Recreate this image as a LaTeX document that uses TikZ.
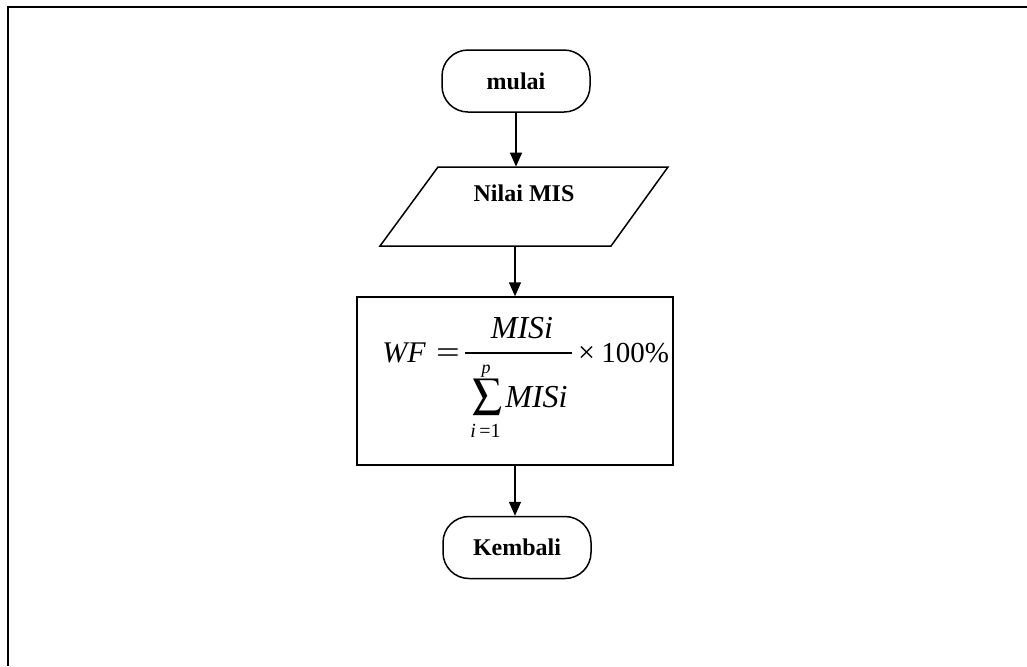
\documentclass[tikz,border=0pt]{standalone}
\usepackage{mathptmx}
\usepackage[no-math]{fontspec}
\setmainfont{Liberation Serif}
\usetikzlibrary{arrows.meta}
\tikzset{
  labelfont/.style={font=\bfseries\fontsize{12}{14}\selectfont},
  frameline/.style={line width=1pt},
  terminal/.style={draw, line width=0.75pt, rounded corners=13pt, minimum width=74pt, minimum height=31pt, labelfont},
  iobox/.style={draw=none, minimum width=20pt, minimum height=39.5pt, inner sep=0pt},
  process/.style={draw, line width=0.75pt, minimum width=158pt, minimum height=84pt, inner sep=0pt},
  flow/.style={line width=0.75pt, -{Triangle[length=7pt,width=6pt]}},
  % pieces of the weighting formula
  fx/.style={inner sep=0pt, font=\fontsize{15}{18}\selectfont},
  fxvar/.style={inner sep=0pt, font=\itshape\fontsize{16}{18}\selectfont},
  fxsmall/.style={inner sep=0pt, font=\fontsize{10}{12}\selectfont},
}
\begin{document}
\begin{tikzpicture}[x=0.5pt, y=-0.5pt]
  \useasboundingbox (0,0) rectangle (1027,666);
  % outer frame (top and left edges)
  \draw[frameline] (8,666) -- (8,7) -- (1027,7);

  % start
  \node[terminal] (start) at (516,81) {mulai};

  % input: parallelogram with its label
  \node[iobox, label={[labelfont, yshift=6.8pt]center:Nilai MIS}] (input) at (524,206.5) {};
  \draw[line width=0.75pt] (438,167) -- (668,167) -- (611,246) -- (380,246) -- cycle;

  % process box holding WF = MISi / sum_{i=1}^{p} MISi x 100%
  \node[process] (calc) at (515,381) {};
  \node[fx, font=\itshape\fontsize{15}{18}\selectfont, anchor=base west] (wf) at (382,362) {WF};
  \node[fx, anchor=base] (eq) at (448,362) {\scalebox{1.4}[1]{=}};
  \draw[line width=0.8pt] (465,353) coordinate (barL) -- (572,353) coordinate (barR);
  \node[fxvar, anchor=base] (num) at (522,338) {MISi};
  \node[inner sep=0pt, anchor=south] (sum) at (487.5,415) {\resizebox*{15pt}{18pt}{$\displaystyle\sum$}};
  \node[fxsmall, font=\itshape\fontsize{9}{11}\selectfont, anchor=base] (upper) at (486,373) {p};
  \node[fxsmall, anchor=base] (lower) at (485.5,437) {\textit{i}\,=1};
  \node[fxvar, anchor=base west] (den) at (505,407) {MISi};
  \node[fx, anchor=base] (times) at (586.5,362) {×};
  \node[fx, font=\fontsize{14.5}{18}\selectfont, anchor=base west] (pct) at (601,362) {100\%};

  % end
  \node[terminal] (stop) at (517,547.5) {Kembali};

  % connectors
  \draw[flow] (start.south) -- (start.south |- input.north);
  \draw[flow] (calc.north |- input.south) -- (calc.north);
  \draw[flow] (calc.south) -- (calc.south |- stop.north);
\end{tikzpicture}
\end{document}
